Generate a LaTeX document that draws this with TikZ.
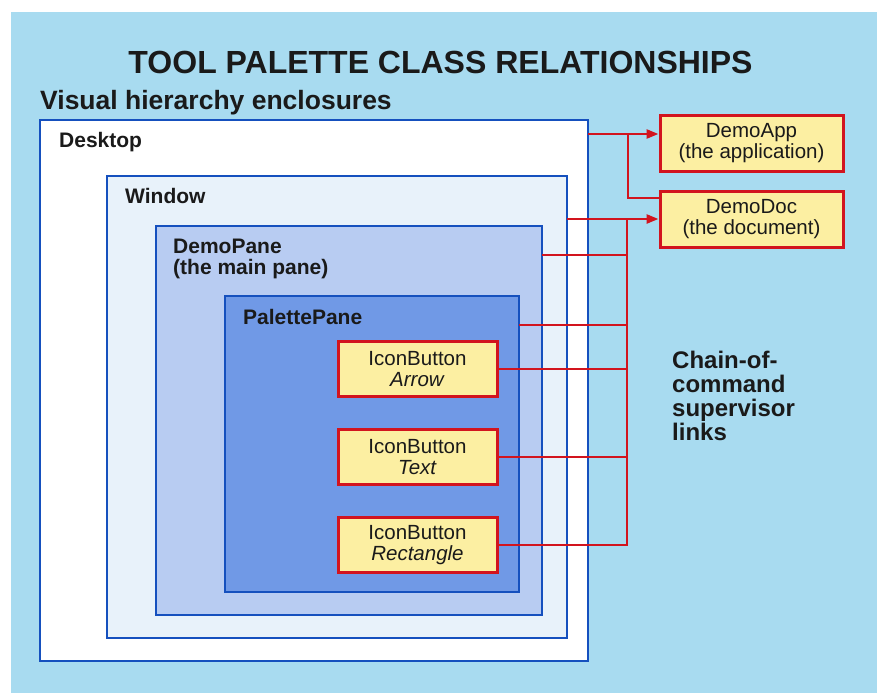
\documentclass[tikz,border=0pt]{standalone}
\usepackage{fontspec}
\setmainfont{Liberation Sans}
\usetikzlibrary{arrows.meta,positioning}
\definecolor{Sky}{HTML}{A8DBF0}
\definecolor{Frame}{HTML}{1550BE}
\definecolor{PaleWin}{HTML}{E8F2FA}
\definecolor{PaneBlue}{HTML}{B8CCF2}
\definecolor{PalBlue}{HTML}{7099E6}
\definecolor{Butter}{HTML}{FCEFA2}
\definecolor{Crimson}{HTML}{D2141E}
\definecolor{Ink}{HTML}{1A1A1A}
\tikzset{
  encl/.style={draw=Frame,line width=2.6pt,anchor=north west,inner sep=0,outer sep=0},
  tag/.style={anchor=base west,inner sep=0,text=Ink,align=left,font=\bfseries\fontsize{21}{21}\selectfont},
  obj/.style={draw=Crimson,fill=Butter,line width=3pt,minimum width=159pt,minimum height=55pt,
    inner sep=0,align=center,text=Ink,font=\fontsize{20.5}{21}\selectfont},
  link/.style={draw=Crimson,line width=2.6pt},
  uplink/.style={link,-{Triangle[length=12pt,width=9pt]}}
}

\begin{document}
\begin{tikzpicture}[x=1pt,y=-1pt]
      \useasboundingbox (0,0) rectangle (881,693);
      \fill[Sky] (11,12) rectangle (877,693);
      \node[anchor=base,inner sep=0,text=Ink,font=\bfseries\fontsize{32}{34}\selectfont] (title) at (440.5,74) {TOOL PALETTE CLASS RELATIONSHIPS};
      \node[tag,font=\bfseries\fontsize{26.5}{28}\selectfont] (visual) at (40,110) {Visual hierarchy enclosures};
      % nested enclosures
      \node[encl,fill=white,minimum width=548pt,minimum height=541pt] (desk) at (40,120) {};
      \node[tag] (deskT) at (59,147) {Desktop};
      \node[encl,fill=PaleWin,minimum width=460pt,minimum height=462pt] (win) at (107,176) {};
      \node[tag] (winT) at (125,203) {Window};
      \node[encl,fill=PaneBlue,minimum width=386pt,minimum height=389pt] (pane) at (156,226) {};
      \node[tag] (paneT) at (173,274) {DemoPane\\(the main pane)};
      \node[encl,fill=PalBlue,minimum width=294pt,minimum height=296pt] (pal) at (225,296) {};
      \node[tag] (palT) at (243,324) {PalettePane};
      % buttons
      \node[obj] (bArrow) at (417.5,369) {IconButton\\\textit{Arrow}};
      \node[obj,below=30pt of bArrow] (bText) {IconButton\\\textit{Text}};
      \node[obj,below=30pt of bText] (bRect) {IconButton\\\textit{Rectangle}};
      % application objects
      \node[obj,minimum width=183pt,minimum height=56pt] (app) at (751.5,143) {DemoApp\\(the application)};
      \node[obj,minimum width=183pt,minimum height=56pt,below=17pt of app] (doc) {DemoDoc\\(the document)};
      \node[anchor=base west,inner sep=0,align=left,text=Ink,font=\bfseries\fontsize{24}{24}\selectfont] (chain) at (672,440) {Chain-of-\\command\\supervisor\\links};
      % supervisor links
      \coordinate (appIn) at ([yshift=9pt]app.west);
      \coordinate (docTop) at ([yshift=21pt]doc.west);
      \coordinate (paneOut) at ([yshift=-29pt]pane.north east);
      \coordinate (palOut) at ([yshift=-29pt]pal.north east);
      \coordinate (busA) at (628,0);
      \coordinate (busB) at (627,0);
      \draw[uplink] (desk.east |- appIn) -- (appIn);
      \draw[link] (docTop) -| (busA |- appIn);
      \draw[uplink] (win.east |- doc.west) -- (doc.west);
      \draw[link] (busB |- doc.west) |- (bRect.east);
      \draw[link] (paneOut) -- (paneOut -| busB);
      \draw[link] (palOut) -- (palOut -| busB);
      \draw[link] (bArrow.east) -- (bArrow.east -| busB);
      \draw[link] (bText.east) -- (bText.east -| busB);
    \end{tikzpicture}
\end{document}
